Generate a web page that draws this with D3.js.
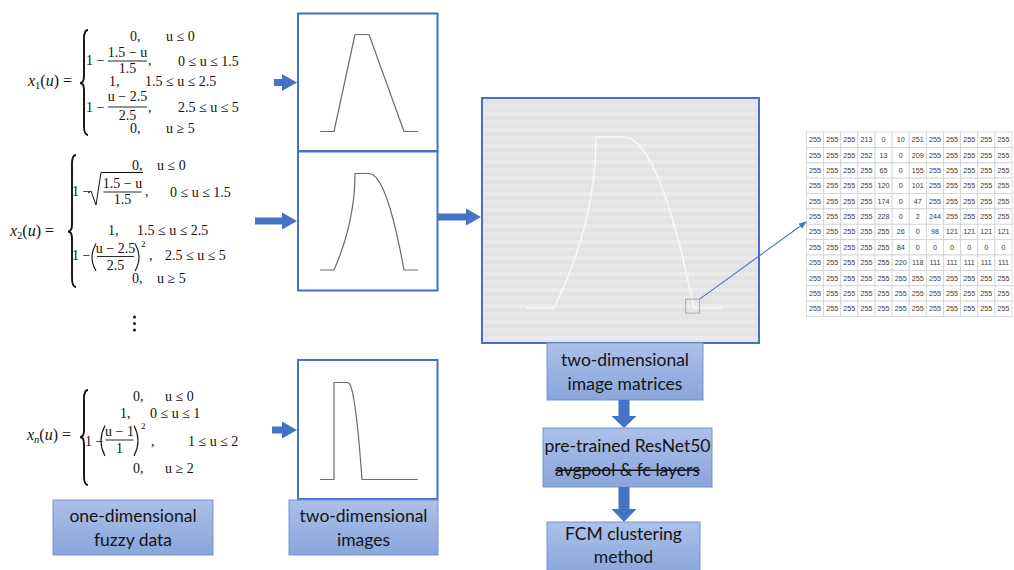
<!DOCTYPE html>
<html>
<head>
<meta charset="utf-8">
<script src="https://cdn.jsdelivr.net/npm/d3@7"></script>
<style>
  html, body { margin: 0; padding: 0; background: #ffffff; }
  svg { display: block; }
</style>
</head>
<body>
<svg id="fig" width="1014" height="570"></svg>
<script>
// ---- membership functions (u, membership) ----
const x1U = [-1, 0, 1.5, 2.5, 5, 6];
const x1M = [0, 0, 1, 1, 0, 0];

const x2U = [-1, 0, 0.15, 0.3, 0.45, 0.6, 0.75, 0.9, 1.05, 1.2, 1.3, 1.4, 1.45, 1.48, 1.5,
             2.5, 2.75, 3, 3.25, 3.5, 3.75, 4, 4.25, 4.5, 4.75, 5, 6];
const x2M = [0, 0, 0.051, 0.106, 0.163, 0.225, 0.293, 0.368, 0.452, 0.553, 0.635, 0.742, 0.817, 0.885, 1,
             1, 0.99, 0.96, 0.91, 0.84, 0.75, 0.64, 0.51, 0.36, 0.19, 0, 0];

const xnU = [-1, 0, 0, 1, 1.1, 1.2, 1.3, 1.4, 1.5, 1.6, 1.7, 1.8, 1.9, 2, 6];
const xnM = [0, 0, 1, 1, 0.99, 0.96, 0.91, 0.84, 0.75, 0.64, 0.51, 0.36, 0.19, 0, 0];

const uDomain = [-1, 6];

// ---- pixel matrix of the zoomed patch ----
const matrixRows = [
  [255, 255, 255, 213, 0, 10, 251, 255, 255, 255, 255, 255],
  [255, 255, 255, 252, 13, 0, 209, 255, 255, 255, 255, 255],
  [255, 255, 255, 255, 65, 0, 155, 255, 255, 255, 255, 255],
  [255, 255, 255, 255, 120, 0, 101, 255, 255, 255, 255, 255],
  [255, 255, 255, 255, 174, 0, 47, 255, 255, 255, 255, 255],
  [255, 255, 255, 255, 228, 0, 2, 244, 255, 255, 255, 255],
  [255, 255, 255, 255, 255, 26, 0, 98, 121, 121, 121, 121],
  [255, 255, 255, 255, 255, 84, 0, 0, 0, 0, 0, 0],
  [255, 255, 255, 255, 255, 220, 118, 111, 111, 111, 111, 111],
  [255, 255, 255, 255, 255, 255, 255, 255, 255, 255, 255, 255],
  [255, 255, 255, 255, 255, 255, 255, 255, 255, 255, 255, 255],
  [255, 255, 255, 255, 255, 255, 255, 255, 255, 255, 255, 255]
];

// ---- flow box labels ----
const labelFuzzy = ["one-dimensional", "fuzzy data"];
const labelImages = ["two-dimensional", "images"];
const labelMatrices = ["two-dimensional", "image matrices"];
const labelResNet = ["pre-trained ResNet50", "avgpool & fc layers"];
const labelFCM = ["FCM clustering", "method"];

const BLUE = "#4472C4";
const svg = d3.select("#fig");

const defs = svg.append("defs");
const grad = defs.append("linearGradient").attr("id", "boxFill")
  .attr("x1", 0).attr("y1", 0).attr("x2", 0).attr("y2", 1);
grad.append("stop").attr("offset", "0%").attr("stop-color", "#adc0e8");
grad.append("stop").attr("offset", "100%").attr("stop-color", "#8aa5db");

// fine texture for the rendered image matrix
const pat = defs.append("pattern").attr("id", "pix")
  .attr("patternUnits", "userSpaceOnUse").attr("width", 2).attr("height", 16);
pat.append("rect").attr("width", 2).attr("height", 16).attr("fill", "#e6e6e6");
pat.append("rect").attr("y", 0).attr("width", 2).attr("height", 4).attr("fill", "#eeeeee");
pat.append("rect").attr("y", 8).attr("width", 2).attr("height", 3).attr("fill", "#ebebeb");
pat.append("rect").attr("x", 1).attr("width", 1).attr("height", 16).attr("fill", "#dcdcdc").attr("opacity", 0.45);

// ---- helpers ----
function arrowRight(x0, x1, cy, shaft, headW, headL) {
  const p = [[x0, cy - shaft / 2], [x1 - headL, cy - shaft / 2], [x1 - headL, cy - headW / 2],
             [x1, cy], [x1 - headL, cy + headW / 2], [x1 - headL, cy + shaft / 2], [x0, cy + shaft / 2]];
  svg.append("path").attr("d", "M" + p.join("L") + "Z").attr("fill", BLUE);
}
function arrowDown(cx, y0, y1, shaft, headW, headL) {
  const p = [[cx - shaft / 2, y0], [cx - shaft / 2, y1 - headL], [cx - headW / 2, y1 - headL],
             [cx, y1], [cx + headW / 2, y1 - headL], [cx + shaft / 2, y1 - headL], [cx + shaft / 2, y0]];
  svg.append("path").attr("d", "M" + p.join("L") + "Z").attr("fill", BLUE);
}
function flowBox(x, y, w, h, lines, opts = {}) {
  const g = svg.append("g");
  g.append("rect").attr("x", x).attr("y", y).attr("width", w).attr("height", h)
    .attr("fill", "url(#boxFill)").attr("stroke", "#7593cf").attr("stroke-width", 1);
  const lh = opts.lh || 23.5;
  const cy = y + (opts.cy != null ? opts.cy : h / 2);
  lines.forEach((t, i) => {
    const ty = cy + (i - (lines.length - 1) / 2) * lh;
    const tx = g.append("text").attr("x", x + w / 2).attr("y", ty)
      .attr("text-anchor", "middle").attr("dominant-baseline", "central")
      .attr("font-family", "Lato, 'Open Sans', sans-serif").attr("font-size", 17.5)
      .attr("fill", "#141414").text(t);
    if (opts.strike === i) {
      const bb = tx.node().getBBox();
      g.append("line").attr("x1", bb.x).attr("x2", bb.x + bb.width)
        .attr("y1", ty + 1).attr("y2", ty + 1).attr("stroke", "#141414").attr("stroke-width", 1.3);
    }
  });
}
function plotPanel(x, y, w, h, U, M, xr, yr, color, sw) {
  svg.append("rect").attr("x", x).attr("y", y).attr("width", w).attr("height", h)
    .attr("fill", "#fff").attr("stroke", BLUE).attr("stroke-width", 2);
  const xs = d3.scaleLinear().domain(uDomain).range(xr);
  const ys = d3.scaleLinear().domain([0, 1]).range(yr);
  const line = d3.line().x(d => xs(d[0])).y(d => ys(d[1])).curve(d3.curveLinear);
  svg.append("path").datum(d3.zip(U, M)).attr("d", line)
    .attr("fill", "none").attr("stroke", color).attr("stroke-width", sw).attr("stroke-linejoin", "round");
  return { xs, ys };
}

// ---- math text ----
const MF = "'Liberation Serif', 'Times New Roman', serif";
const mathG = svg.append("g").attr("font-family", MF).attr("font-size", 14).attr("fill", "#111");
function mt(x, y, s, anchor) {
  return mathG.append("text").attr("x", x).attr("y", y).attr("text-anchor", anchor || "start").text(s);
}
function lhs(x, y, sub) {
  const t = mathG.append("text").attr("x", x).attr("y", y).attr("font-size", 16);
  t.append("tspan").attr("font-style", "italic").text("x");
  t.append("tspan").attr("font-size", 10.5).attr("dy", 3).attr("font-style", sub === "n" ? "italic" : "normal").text(sub);
  t.append("tspan").attr("dy", -3).text("(");
  t.append("tspan").attr("font-style", "italic").text("u");
  t.append("tspan").text(") =");
}
function brace(x, top, bot, mid) {
  mid = mid == null ? (top + bot) / 2 : mid;
  const r = x + 6, c = x + 2;
  const d = `M${r},${top} Q${c},${top} ${c},${top + 9} L${c},${mid - 7} Q${c},${mid} ${x - 2},${mid}` +
            ` Q${c},${mid} ${c},${mid + 7} L${c},${bot - 9} Q${c},${bot} ${r},${bot}`;
  mathG.append("path").attr("d", d).attr("fill", "none").attr("stroke", "#111").attr("stroke-width", 1.9);
}
function frac(cx, numY, lineY, denY, num, den, hw) {
  mt(cx, numY, num, "middle");
  mathG.append("line").attr("x1", cx - hw).attr("x2", cx + hw).attr("y1", lineY).attr("y2", lineY)
    .attr("stroke", "#111").attr("stroke-width", 0.9);
  mt(cx, denY, den, "middle");
}
function paren(x, top, bot, dir) {
  const mid = (top + bot) / 2;
  mathG.append("path").attr("d", `M${x},${top} Q${x - 8 * dir},${mid} ${x},${bot}`)
    .attr("fill", "none").attr("stroke", "#111").attr("stroke-width", 1.1);
}
function sup(x, y, s) {
  mathG.append("text").attr("x", x).attr("y", y).attr("font-size", 9).text(s);
}

// x1(u)
lhs(28, 86, "1");
brace(82, 30, 135, 83);
mt(130, 40.5, "0,"); mt(166, 40.5, "u ≤ 0");
mt(86, 65, "1 −"); frac(127.5, 56.5, 61, 73, "1.5 − u", "1.5", 19.5); mt(148, 65, ",");
mt(178, 65.5, "0 ≤ u ≤ 1.5");
mt(109, 86, "1,"); mt(145, 86, "1.5 ≤ u ≤ 2.5");
mt(86, 111.5, "1 −"); frac(127.5, 101, 107, 119.5, "u − 2.5", "2.5", 19.5); mt(148, 111.5, ",");
mt(178, 111.5, "2.5 ≤ u ≤ 5");
mt(130, 132.5, "0,"); mt(166, 132.5, "u ≥ 5");

// x2(u)
lhs(10, 236, "2");
brace(70, 155, 287, 231.5);
mt(132, 169.5, "0,"); mt(157, 169.5, "u ≤ 0");
mt(72, 196, "1 −");
mathG.append("path").attr("d", "M88,193 L91,191 L96,205 L101,172.5 L143,172.5")
  .attr("fill", "none").attr("stroke", "#111").attr("stroke-width", 1);
frac(122.5, 188, 192, 203.5, "1.5 − u", "1.5", 19); mt(145, 196, ",");
mt(170, 196.5, "0 ≤ u ≤ 1.5");
mt(108, 234.5, "1,"); mt(137, 234.5, "1.5 ≤ u ≤ 2.5");
mt(72, 259.5, "1 −");
paren(96, 243.5, 271, 1); paren(135, 243.5, 271, -1);
frac(115.5, 252.5, 256.5, 269.5, "u − 2.5", "2.5", 18.5);
sup(141, 246.5, "2");
mt(149, 259.5, ",");
mt(165, 259.5, "2.5 ≤ u ≤ 5");
mt(132, 283, "0,"); mt(157, 283, "u ≥ 5");

// vertical ellipsis
[317, 323.5, 330].forEach(cy => svg.append("circle").attr("cx", 134.5).attr("cy", cy).attr("r", 1.5).attr("fill", "#111"));

// xn(u)
lhs(27, 440, "n");
brace(82, 390, 485, 437);
mt(133, 401, "0,"); mt(165, 401, "u ≤ 0");
mt(120, 417.5, "1,"); mt(150, 417.5, "0 ≤ u ≤ 1");
mt(85, 445.5, "1 −");
paren(105, 425.5, 456, 1); paren(134, 425.5, 456, -1);
frac(119.5, 436, 440, 453, "u − 1", "1", 14);
sup(141, 428.5, "2");
mt(151, 445.5, ",");
mt(188, 445.5, "1 ≤ u ≤ 2");
mt(133, 472.5, "0,"); mt(165, 472.5, "u ≥ 2");

// ---- small image panels ----
plotPanel(298, 13.5, 139.5, 137.5, x1U, x1M, [320, 418], [131.5, 34.5], "#6b6b6b", 1.2);
plotPanel(298, 151.5, 139.5, 139, x2U, x2M, [320, 418], [270, 173.5], "#6b6b6b", 1.2);
plotPanel(298, 360, 139.5, 139, xnU, xnM, [320, 418], [479.5, 382.5], "#6b6b6b", 1.2);

// ---- arrows into the panels ----
arrowRight(274, 297, 82.5, 7, 17, 15);
arrowRight(255, 297, 221, 7, 17, 15);
arrowRight(272, 297, 430, 7, 17, 15);
arrowRight(438, 481, 217, 7, 17, 15);

// ---- rendered image matrix ----
svg.append("rect").attr("x", 482).attr("y", 98).attr("width", 277).attr("height", 245)
  .attr("fill", "url(#pix)").attr("stroke", BLUE).attr("stroke-width", 2);
const bigX = d3.scaleLinear().domain(uDomain).range([526, 722]);
const bigY = d3.scaleLinear().domain([0, 1]).range([308, 137]);
svg.append("path").datum(d3.zip(x2U, x2M))
  .attr("d", d3.line().x(d => bigX(d[0])).y(d => bigY(d[1])))
  .attr("fill", "none").attr("stroke", "#f7f7f7").attr("stroke-width", 1.6).attr("stroke-linejoin", "round");

// zoom window around the tail of the curve
const winX0 = bigX(4.7), winX1 = bigX(5.2), winY1 = bigY(-0.03), winY0 = winY1 - (winX1 - winX0);
svg.append("rect").attr("x", winX0).attr("y", winY0).attr("width", winX1 - winX0).attr("height", winY1 - winY0)
  .attr("fill", "none").attr("stroke", "#a9a9a9").attr("stroke-width", 1);

// ---- matrix table ----
const tblX = d3.scaleBand().domain(d3.range(12)).range([806.5, 1012]);
const tblY = d3.scaleBand().domain(d3.range(12)).range([132, 316.5]);
const tbl = svg.append("g");
matrixRows.forEach((row, r) => row.forEach((v, c) => {
  tbl.append("rect").attr("x", tblX(c)).attr("y", tblY(r))
    .attr("width", tblX.bandwidth()).attr("height", tblY.bandwidth())
    .attr("fill", "#fff").attr("stroke", "#d2d2d2").attr("stroke-width", 0.8);
  tbl.append("text").attr("x", tblX(c) + tblX.bandwidth() / 2).attr("y", tblY(r) + tblY.bandwidth() / 2)
    .attr("text-anchor", "middle").attr("dominant-baseline", "central")
    .attr("font-family", "'Liberation Sans', Arial, sans-serif").attr("font-size", 7.2)
    .attr("fill", "#3a3a3a").text(v);
}));

// pointer from the zoom window to the table
defs.append("marker").attr("id", "tip").attr("viewBox", "0 0 10 10").attr("refX", 9).attr("refY", 5)
  .attr("markerWidth", 7).attr("markerHeight", 7).attr("orient", "auto")
  .append("path").attr("d", "M0,1 L10,5 L0,9 Z").attr("fill", BLUE);
svg.append("line").attr("x1", winX1).attr("y1", winY0).attr("x2", 806).attr("y2", 222)
  .attr("stroke", BLUE).attr("stroke-width", 1.1).attr("marker-end", "url(#tip)");

// ---- flow boxes ----
flowBox(547, 343, 156, 57, labelMatrices);
arrowDown(624, 400, 428, 11, 25, 12);
flowBox(543, 428, 169, 59, labelResNet, { strike: 1 });
arrowDown(624, 487, 522, 11, 25, 13);
flowBox(547, 522, 153, 52, labelFCM, { cy: 23 });

flowBox(53, 500, 160, 55, labelFuzzy);
flowBox(289, 500, 149, 55, labelImages);
</script>
</body>
</html>
